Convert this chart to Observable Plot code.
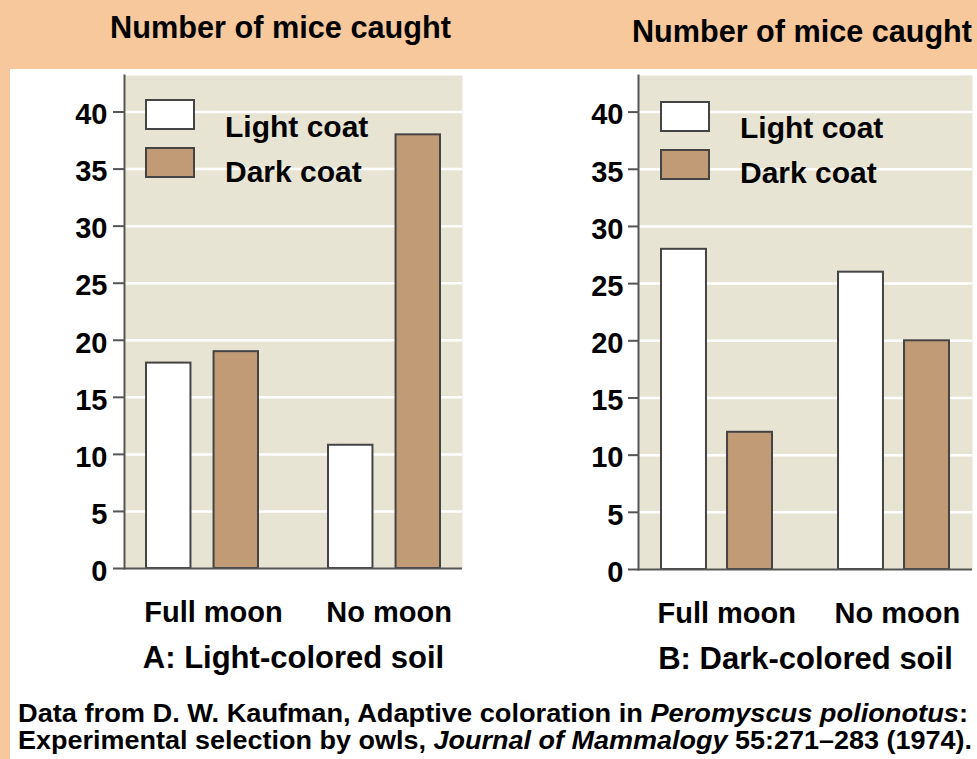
<!DOCTYPE html>
<html><head><meta charset="utf-8">
<script src="https://cdn.jsdelivr.net/npm/d3@7"></script>
<script src="https://cdn.jsdelivr.net/npm/@observablehq/plot@0.6"></script>
<style>
html,body{margin:0;padding:0;}
body{width:977px;height:759px;overflow:hidden;background:#f6c89c;position:relative;font-family:"Liberation Sans",Arial,sans-serif;}
#panel{position:absolute;left:10px;top:69px;width:967px;height:690px;background:#ffffff;}
.plot{position:absolute;top:69px;}
#overlay{position:absolute;left:0;top:0;pointer-events:none;}
</style></head><body>
<div id="panel"></div>
<div id="left" class="plot" style="left:0px"></div>
<div id="right" class="plot" style="left:500px"></div>
<svg id="overlay" width="977" height="759"></svg>
<script>
// ---- data ----
const moons = ["Full moon", "No moon"];
const coats = ["Light coat", "Dark coat"];
const lightSoilLightCoat = [18, 10.8];
const lightSoilDarkCoat = [19, 38];
const darkSoilLightCoat = [28, 26];
const darkSoilDarkCoat = [12, 20];
const yTicks = [0, 5, 10, 15, 20, 25, 30, 35, 40];
const yTitle = "Number of mice caught";
const panelLabels = ["A: Light-colored soil", "B: Dark-colored soil"];
const captionLines = [
  [["Data from D. W. Kaufman, Adaptive coloration in ", false], ["Peromyscus polionotus", true], [":", false]],
  [["Experimental selection by owls, ", false], ["Journal of Mammalogy", true], [" 55:271\u2013283 (1974).", false]]
];

// ---- style ----
const beige = "#e8e4d3";
const lightFill = "#ffffff";
const darkFill = "#c19b75";
const edge = "#444444";
const axisColor = "#555555";
const FONT = "'Liberation Sans', Arial, sans-serif";

function panel(light, dark, o) {
  const rows = moons.flatMap((m, i) => [
    {moon: m, coat: coats[0], n: light[i]},
    {moon: m, coat: coats[1], n: dark[i]}
  ]);
  const H = 610;
  const W = o.width - o.ml - o.mr;
  const step = W / (moons.length - o.pi + 2 * o.po);
  const bw = step * (1 - o.pi);
  const barW = 45;
  return Plot.plot({
    width: o.width, height: H,
    marginLeft: o.ml, marginRight: o.mr, marginTop: o.mt, marginBottom: H - (o.zeroY - 69),
    x: {domain: moons, paddingInner: o.pi, paddingOuter: o.po},
    y: {domain: [0, 43.2]},
    style: {background: "transparent", fontFamily: FONT, color: "#000", overflow: "visible"},
    marks: [
      Plot.frame({fill: beige, stroke: null}),
      Plot.ruleY(yTicks.filter(d => d > 0), {stroke: "#ffffff", strokeWidth: 2.5}),
      Plot.barY(rows.filter(d => d.coat === coats[0]), {x: "moon", y: "n", fill: lightFill, stroke: edge, strokeWidth: 2, insetRight: bw - barW}),
      Plot.barY(rows.filter(d => d.coat === coats[1]), {x: "moon", y: "n", fill: darkFill, stroke: edge, strokeWidth: 2, insetLeft: bw - barW}),
      Plot.ruleY([0], {stroke: axisColor, strokeWidth: 2}),
      Plot.frame({anchor: "left", stroke: axisColor, strokeWidth: 2}),
      Plot.axisY({ticks: yTicks, tickSize: o.tickSize, tickFormat: () => "", stroke: axisColor, strokeWidth: 2, label: null}),
      Plot.text(yTicks, {y: d => d, text: d => String(d), frameAnchor: "left", textAnchor: "end", dx: -(o.tickSize + o.tickPad), dy: 3, fontSize: 29, fontWeight: "bold", fill: "#000"}),
      Plot.axisX({tickSize: 0, tickPadding: 33, fontSize: 29, fontWeight: "bold", fill: "#000", textAnchor: "start", dx: -bw / 2 - o.labelShift, label: null}),
      Plot.text([o.label], {text: d => d, frameAnchor: "bottom", dy: 99, fontSize: 31, fontWeight: "bold", fill: "#000"})
    ]
  });
}

document.getElementById("left").append(panel(lightSoilLightCoat, lightSoilDarkCoat, {
  width: 480, ml: 124, mr: 18, mt: 6, zeroY: 568, pi: 0.385, po: 0.116, tickSize: 11, tickPad: 6, labelShift: 2, label: panelLabels[0]
}));
document.getElementById("right").append(panel(darkSoilLightCoat, darkSoilDarkCoat, {
  width: 477, ml: 138, mr: 5, mt: 6, zeroY: 569, pi: 0.3746, po: 0.128, tickSize: 10, tickPad: 5, labelShift: 4, label: panelLabels[1]
}));

// ---- overlay texts: titles, legends, caption ----
const svg = d3.select("#overlay").style("font-family", FONT).style("font-weight", "bold");
[[110, 38, 341], [632, 42, 340]].forEach(([x, y, w]) => {
  svg.append("text").attr("x", x).attr("y", y).attr("font-size", 31)
    .attr("textLength", w).attr("lengthAdjust", "spacingAndGlyphs").text(yTitle);
});
[[146, 100, 225, 137, 182], [661, 102, 740, 138, 183]].forEach(([rx, ry, tx, ty1, ty2]) => {
  svg.append("rect").attr("x", rx).attr("y", ry).attr("width", 48).attr("height", 29)
    .attr("fill", lightFill).attr("stroke", edge).attr("stroke-width", 2);
  svg.append("rect").attr("x", rx).attr("y", ry + 48).attr("width", 48).attr("height", 29)
    .attr("fill", darkFill).attr("stroke", edge).attr("stroke-width", 2);
  svg.append("text").attr("x", tx).attr("y", ty1).attr("font-size", 30).text(coats[0]);
  svg.append("text").attr("x", tx).attr("y", ty2).attr("font-size", 30).text(coats[1]);
});
[[18, 722, 950], [18, 749, 954]].forEach(([x, y, w], i) => {
  const t = svg.append("text").attr("x", x).attr("y", y).attr("font-size", 25)
    .attr("textLength", w).attr("lengthAdjust", "spacingAndGlyphs");
  captionLines[i].forEach(([s, it]) => t.append("tspan").attr("font-style", it ? "italic" : "normal").text(s));
});
</script>
</body></html>
